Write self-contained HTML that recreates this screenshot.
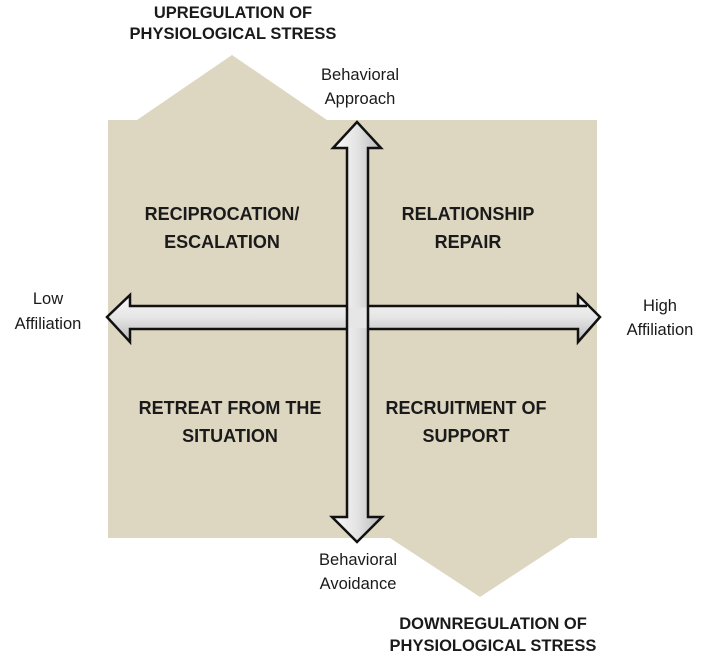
<!DOCTYPE html>
<html><head><meta charset="utf-8"><style>
body{margin:0;background:#fff;}
svg{display:block;}
text{font-family:"Liberation Sans",sans-serif;fill:#1a1a1a;}
.b{font-weight:bold;font-size:18px;}
.h{font-weight:bold;font-size:16.5px;}
.a{font-size:16.5px;}
</style></head><body>
<svg width="704" height="657" viewBox="0 0 704 657" xmlns="http://www.w3.org/2000/svg">
<defs>
<linearGradient id="gv" x1="0" x2="1" y1="0" y2="0"><stop offset="0" stop-color="#fafafa"/><stop offset="0.5" stop-color="#e4e4e4"/><stop offset="1" stop-color="#b8b8b8"/></linearGradient>
<linearGradient id="gh" x1="0" x2="0" y1="0" y2="1"><stop offset="0" stop-color="#fafafa"/><stop offset="0.5" stop-color="#e4e4e4"/><stop offset="1" stop-color="#b8b8b8"/></linearGradient>
</defs>
<polygon points="108,120 137,120 232,55 327,120 597,120 597,538 570,538 480,597 390,538 108,538" fill="#ddd6c0"/>
<polygon points="107,317 130,295 130,306 587,306 578,306 578,295 600,317 578,342 578,329 130,329 130,342" fill="url(#gh)" stroke="#111" stroke-width="2.5" stroke-linejoin="miter"/>
<polygon points="357,122 381,148 368,148 368,517 382,517 357,542 332,517 347,517 347,148 333,148" fill="url(#gv)" stroke="#111" stroke-width="2.5"/>
<rect x="348.5" y="307.5" width="18" height="20.5" fill="#e6e6e6"/>
<text class="h" x="233" y="18" text-anchor="middle">UPREGULATION OF</text>
<text class="h" x="233" y="39" text-anchor="middle">PHYSIOLOGICAL STRESS</text>
<text class="a" x="360" y="80" text-anchor="middle">Behavioral</text>
<text class="a" x="360" y="104" text-anchor="middle">Approach</text>
<text class="b" x="222" y="220" text-anchor="middle">RECIPROCATION/</text>
<text class="b" x="222" y="248" text-anchor="middle">ESCALATION</text>
<text class="b" x="468" y="220" text-anchor="middle">RELATIONSHIP</text>
<text class="b" x="468" y="248" text-anchor="middle">REPAIR</text>
<text class="b" x="230" y="414" text-anchor="middle">RETREAT FROM THE</text>
<text class="b" x="230" y="442" text-anchor="middle">SITUATION</text>
<text class="b" x="466" y="414" text-anchor="middle">RECRUITMENT OF</text>
<text class="b" x="466" y="442" text-anchor="middle">SUPPORT</text>
<text class="a" x="48" y="304" text-anchor="middle">Low</text>
<text class="a" x="48" y="329" text-anchor="middle">Affiliation</text>
<text class="a" x="660" y="311" text-anchor="middle">High</text>
<text class="a" x="660" y="335" text-anchor="middle">Affiliation</text>
<text class="a" x="358" y="565" text-anchor="middle">Behavioral</text>
<text class="a" x="358" y="589" text-anchor="middle">Avoidance</text>
<text class="h" x="493" y="629" text-anchor="middle">DOWNREGULATION OF</text>
<text class="h" x="493" y="651" text-anchor="middle">PHYSIOLOGICAL STRESS</text>
</svg>
</body></html>
